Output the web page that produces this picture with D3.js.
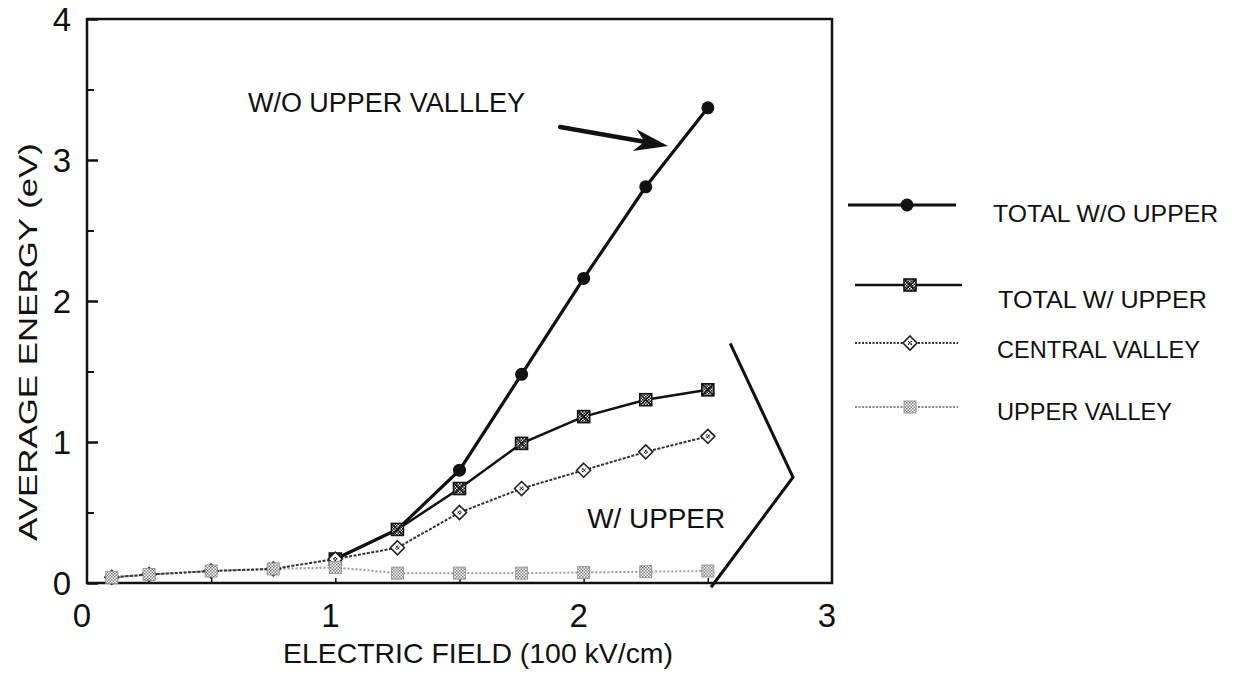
<!DOCTYPE html>
<html>
<head>
<meta charset="utf-8">
<script src="https://cdn.jsdelivr.net/npm/d3@7"></script>
<style>
  html, body { margin: 0; padding: 0; background: #fff; }
  svg { display: block; }
  text { font-family: "Liberation Sans", Arial, Helvetica, sans-serif; fill: #111; }
</style>
</head>
<body>
<svg id="chart" width="1239" height="685"></svg>
<script>
// ---------- data ----------
const fieldLow = [0.1, 0.25, 0.5, 0.75, 1.0, 1.25, 1.5, 1.75, 2.0, 2.25, 2.5];
const fieldHigh = [1.0, 1.25, 1.5, 1.75, 2.0, 2.25, 2.5];
const totalWoUpper = [0.17, 0.38, 0.80, 1.48, 2.16, 2.81, 3.37];
const totalWUpper = [0.17, 0.38, 0.67, 0.99, 1.18, 1.30, 1.37];
const centralValley = [0.04, 0.06, 0.085, 0.10, 0.17, 0.25, 0.50, 0.67, 0.80, 0.93, 1.04];
const upperValley = [0.04, 0.06, 0.085, 0.10, 0.11, 0.07, 0.07, 0.07, 0.075, 0.08, 0.085];
const xTickLabels = ["0", "1", "2", "3"];
const yTickLabels = ["0", "1", "2", "3", "4"];
const legendLabels = ["TOTAL W/O UPPER", "TOTAL W/ UPPER", "CENTRAL VALLEY", "UPPER VALLEY"];
const xTitle = "ELECTRIC FIELD (100 kV/cm)";
const yTitle = "AVERAGE ENERGY (eV)";
const noteWo = "W/O UPPER VALLLEY";
const noteW = "W/ UPPER";

// ---------- layout ----------
const svg = d3.select("#chart");
const x = d3.scaleLinear().domain([0, 3]).range([87, 832]);
const y = d3.scaleLinear().domain([0, 4]).range([583, 19]);

// patterns
const defs = svg.append("defs");
const pDark = defs.append("pattern").attr("id", "chkDark").attr("width", 3).attr("height", 3)
  .attr("patternUnits", "userSpaceOnUse");
pDark.append("rect").attr("width", 3).attr("height", 3).attr("fill", "#fff");
pDark.append("rect").attr("width", 1.6).attr("height", 1.6).attr("fill", "#111");
pDark.append("rect").attr("x", 1.5).attr("y", 1.5).attr("width", 1.5).attr("height", 1.5).attr("fill", "#111");
const pGray = defs.append("pattern").attr("id", "chkGray").attr("width", 3).attr("height", 3)
  .attr("patternUnits", "userSpaceOnUse");
pGray.append("rect").attr("width", 3).attr("height", 3).attr("fill", "#fff");
pGray.append("rect").attr("width", 1.6).attr("height", 1.6).attr("fill", "#888");
pGray.append("rect").attr("x", 1.5).attr("y", 1.5).attr("width", 1.5).attr("height", 1.5).attr("fill", "#888");

// frame
svg.append("rect")
  .attr("x", x(0)).attr("y", y(4))
  .attr("width", x(3) - x(0)).attr("height", y(0) - y(4))
  .attr("fill", "none").attr("stroke", "#111").attr("stroke-width", 2.5);

// y axis ticks (inward)
const yAxis = d3.axisRight(y).tickValues([0, 1, 2, 3, 4]).tickSize(11).tickFormat("");
const gy = svg.append("g").attr("transform", `translate(${x(0)},0)`).call(yAxis);
gy.select(".domain").remove();
gy.selectAll("line").attr("stroke", "#111").attr("stroke-width", 2.5);
const yMinor = d3.axisRight(y).tickValues([0.5, 1.5, 2.5, 3.5]).tickSize(7).tickFormat("");
const gym = svg.append("g").attr("transform", `translate(${x(0)},0)`).call(yMinor);
gym.select(".domain").remove();
gym.selectAll("line").attr("stroke", "#111").attr("stroke-width", 2);

// y tick labels
svg.append("g").selectAll("text").data(yTickLabels).join("text")
  .attr("x", 71).attr("y", d => y(+d) + 12)
  .attr("text-anchor", "end").attr("font-size", 33).text(d => d);

// x axis ticks (inward)
const xAxis = d3.axisTop(x).tickValues([0.5, 1, 1.5, 2, 2.5]).tickSize(5).tickFormat("");
const gx = svg.append("g").attr("transform", `translate(0,${y(0)})`).call(xAxis);
gx.select(".domain").remove();
gx.selectAll("line").attr("stroke", "#111").attr("stroke-width", 1.5);

// x tick labels
svg.append("g").selectAll("text").data(xTickLabels).join("text")
  .attr("x", d => x(+d) - 5).attr("y", 627)
  .attr("text-anchor", "middle").attr("font-size", 33).text(d => d);

// axis titles
svg.append("text").attr("x", 478).attr("y", 663).attr("text-anchor", "middle")
  .attr("font-size", 28).attr("textLength", 390).attr("lengthAdjust", "spacingAndGlyphs").text(xTitle);
svg.append("text").attr("transform", "translate(37,342) rotate(-90)").attr("text-anchor", "middle")
  .attr("font-size", 25).attr("textLength", 398).attr("lengthAdjust", "spacingAndGlyphs").text(yTitle);

// ---------- series ----------
const line = d3.line().x(d => x(d[0])).y(d => y(d[1]));
const zip = (xs, ys) => xs.map((v, i) => [v, ys[i]]);

const upData = zip(fieldLow, upperValley);
const cenData = zip(fieldLow, centralValley);
const wData = zip(fieldHigh, totalWUpper);
const woData = zip(fieldHigh, totalWoUpper);

svg.append("path").datum(upData).attr("d", line).attr("fill", "none")
  .attr("stroke", "#9a9a9a").attr("stroke-width", 2).attr("stroke-dasharray", "2,2");
svg.append("path").datum(cenData).attr("d", line).attr("fill", "none")
  .attr("stroke", "#333").attr("stroke-width", 2).attr("stroke-dasharray", "3,1.5");
svg.append("path").datum(wData).attr("d", line).attr("fill", "none")
  .attr("stroke", "#111").attr("stroke-width", 2.5);
svg.append("path").datum(woData).attr("d", line).attr("fill", "none")
  .attr("stroke", "#111").attr("stroke-width", 3.2);

// marker drawers
function mkUpper(g, cx, cy) {
  g.append("rect").attr("x", cx - 6).attr("y", cy - 6).attr("width", 12).attr("height", 12)
    .attr("fill", "url(#chkGray)").attr("stroke", "#999").attr("stroke-width", 1);
}
function mkCentral(g, cx, cy) {
  g.append("path").attr("d", `M${cx},${cy - 7}L${cx + 7},${cy}L${cx},${cy + 7}L${cx - 7},${cy}Z`)
    .attr("fill", "#fff").attr("stroke", "#222").attr("stroke-width", 1.6);
  g.append("rect").attr("x", cx - 2).attr("y", cy - 2).attr("width", 4).attr("height", 4)
    .attr("fill", "url(#chkDark)");
}
function mkWUpper(g, cx, cy) {
  g.append("rect").attr("x", cx - 6).attr("y", cy - 6).attr("width", 12).attr("height", 12)
    .attr("fill", "url(#chkDark)").attr("stroke", "#111").attr("stroke-width", 1.6);
  g.append("path").attr("d", `M${cx - 5},${cy - 5}L${cx + 5},${cy + 5}M${cx + 5},${cy - 5}L${cx - 5},${cy + 5}`)
    .attr("stroke", "#111").attr("stroke-width", 1.5);
}
function mkWo(g, cx, cy) {
  g.append("circle").attr("cx", cx).attr("cy", cy).attr("r", 6.5).attr("fill", "#111");
}

const gm = svg.append("g");
woData.forEach(d => mkWo(gm, x(d[0]), y(d[1])));
wData.forEach(d => mkWUpper(gm, x(d[0]), y(d[1])));
cenData.forEach(d => mkCentral(gm, x(d[0]), y(d[1])));
upData.forEach(d => mkUpper(gm, x(d[0]), y(d[1])));

// ---------- annotations ----------
svg.append("text").attr("x", x(0.648)).attr("y", y(3.34)).attr("font-size", 27)
  .attr("textLength", 277).attr("lengthAdjust", "spacingAndGlyphs").text(noteWo);
svg.append("text").attr("x", x(2.014)).attr("y", y(0.39)).attr("font-size", 28)
  .attr("textLength", 138).attr("lengthAdjust", "spacingAndGlyphs").text(noteW);

// arrow
const a0 = [x(1.905), y(3.234)], a1 = [x(2.34), y(3.10)];
const ang = Math.atan2(a1[1] - a0[1], a1[0] - a0[0]);
const hl = 28, hw = 11;
const bx = a1[0] - hl * Math.cos(ang), by = a1[1] - hl * Math.sin(ang);
svg.append("line").attr("x1", a0[0]).attr("y1", a0[1]).attr("x2", bx + 4 * Math.cos(ang)).attr("y2", by + 4 * Math.sin(ang))
  .attr("stroke", "#111").attr("stroke-width", 4.5).attr("stroke-linecap", "round");
svg.append("path").attr("d",
  `M${a1[0]},${a1[1]}L${bx - hw * Math.sin(ang) - 6 * Math.cos(ang)},${by + hw * Math.cos(ang) - 6 * Math.sin(ang)}` +
  `L${bx + 4 * Math.cos(ang)},${by + 4 * Math.sin(ang)}` +
  `L${bx + hw * Math.sin(ang) - 6 * Math.cos(ang)},${by - hw * Math.cos(ang) - 6 * Math.sin(ang)}Z`)
  .attr("fill", "#111");

// bracket
const br = [[2.59, 1.70], [2.843, 0.75], [2.513, -0.03]];
svg.append("path").datum(br).attr("d", line).attr("fill", "none")
  .attr("stroke", "#111").attr("stroke-width", 3);

// ---------- legend ----------
const legendRows = [
  { y: 205, x1: 848, x2: 956, mx: 907, tx: 993, ty: 222, tl: 225, kind: "wo" },
  { y: 285, x1: 855, x2: 962, mx: 910, tx: 998, ty: 308, tl: 209, kind: "w" },
  { y: 343, x1: 855, x2: 958, mx: 910, tx: 997, ty: 358, tl: 203, kind: "cen" },
  { y: 407, x1: 855, x2: 958, mx: 910, tx: 997, ty: 420, tl: 175, kind: "up" }
];
const lg = svg.append("g");
legendRows.forEach((r, i) => {
  const ln = lg.append("line").attr("x1", r.x1).attr("x2", r.x2).attr("y1", r.y).attr("y2", r.y);
  if (r.kind === "wo") ln.attr("stroke", "#111").attr("stroke-width", 3.2);
  if (r.kind === "w") ln.attr("stroke", "#111").attr("stroke-width", 2.5);
  if (r.kind === "cen") ln.attr("stroke", "#333").attr("stroke-width", 2).attr("stroke-dasharray", "2,1.5");
  if (r.kind === "up") ln.attr("stroke", "#888").attr("stroke-width", 2).attr("stroke-dasharray", "2,1.5");
  if (r.kind === "wo") mkWo(lg, r.mx, r.y);
  if (r.kind === "w") mkWUpper(lg, r.mx, r.y);
  if (r.kind === "cen") mkCentral(lg, r.mx, r.y);
  if (r.kind === "up") mkUpper(lg, r.mx, r.y);
  lg.append("text").attr("x", r.tx).attr("y", r.ty).attr("font-size", 24)
    .attr("textLength", r.tl).attr("lengthAdjust", "spacingAndGlyphs").text(legendLabels[i]);
});
</script>
</body>
</html>
